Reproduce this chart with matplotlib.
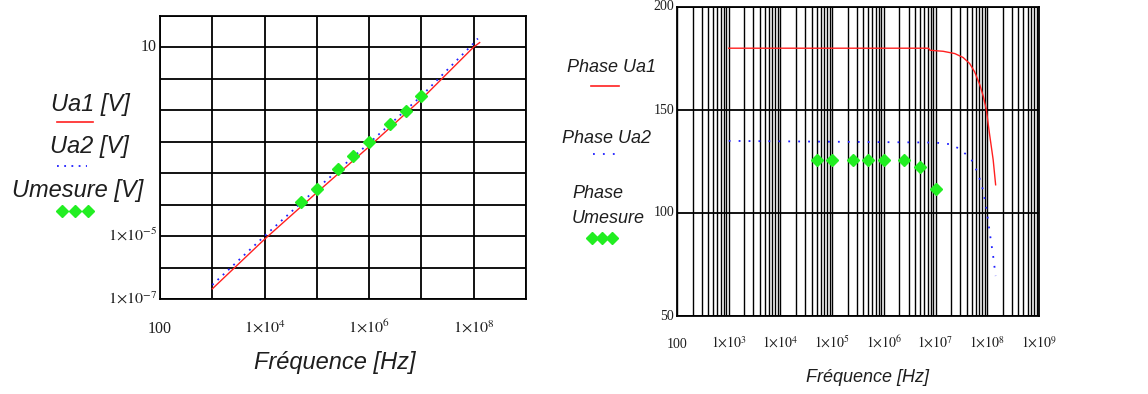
import matplotlib
matplotlib.use("Agg")
import matplotlib.pyplot as plt
from matplotlib.lines import Line2D

# --- data ---
# left plot: amplitude vs frequency
ua1_freq = [1e3, 1e4, 1e5, 1e6, 1e7, 1e8, 1.3e8]
ua1 = [2.1e-7, 7.9e-6, 2.4e-4, 6.9e-3, 0.22, 10.0, 13.8]
ua2_freq = [1e3, 1e4, 1e5, 1e6, 1e7, 1e8, 1.2e8]
ua2 = [2.8e-7, 1.0e-5, 3.2e-4, 8.9e-3, 0.28, 13.2, 18.6]
mes_freq = [5e4, 1e5, 2.5e5, 5e5, 1e6, 2.5e6, 5e6, 1e7]
umesure = [1.2e-4, 3.2e-4, 1.3e-3, 3.5e-3, 9.5e-3, 3.5e-2, 9.3e-2, 0.28]

# right plot: phase vs frequency
ph1_freq = [1e3, 7.3e6, 7.8e6, 1.4e7, 2.35e7, 3.4e7, 4.55e7, 5.7e7, 7.2e7, 8.4e7, 9.6e7, 1.1e8, 1.3e8, 1.45e8]
phase_ua1 = [180, 180, 179.0, 178.5, 177.4, 175.5, 172.6, 168.5, 162.1, 156.5, 150.0, 138.7, 125.8, 113.7]
ph2_freq = [1e3, 9.8e6, 1.9e7, 3e7, 4.9e7, 6.6e7, 8.3e7, 9.6e7, 1.12e8, 1.3e8, 1.45e8]
phase_ua2 = [135, 134.2, 133.4, 131.0, 126.1, 119.4, 111.0, 102.4, 90.2, 79.0, 69.4]
phase_mes = [125.6, 125.6, 125.6, 125.6, 125.6, 125.6, 122.3, 111.8]

left_yticks = [10, 1e-5, 1e-7]
left_ylabels = ["10", r"$1{\times}10^{-5}$", r"$1{\times}10^{-7}$"]
left_xticks = [1e2, 1e4, 1e6, 1e8]
left_xlabels = ["100", r"$1{\times}10^{4}$", r"$1{\times}10^{6}$", r"$1{\times}10^{8}$"]
right_xticks = [1e2, 1e3, 1e4, 1e5, 1e6, 1e7, 1e8, 1e9]
right_xlabels = ["100"] + [r"$1{\times}10^{%d}$" % k for k in range(3, 10)]
right_yticks = [50, 100, 150, 200]

RED = "#ff2020"
BLUE = "#2020ff"
GREEN = "#22ee22"
TXT = "#1e1e1e"
DOTS_L = (0, (1, 3))
DOTS_R = (0, (1, 4.5))

plt.rcParams["mathtext.fontset"] = "stix"
plt.rcParams["font.family"] = "Liberation Serif"

W, H = 1148, 394
fig = plt.figure(figsize=(W / 100, H / 100), dpi=100)


def fx(px):
    return px / W


def fy(py):
    return 1 - py / H


# ---------------- left plot ----------------
ax1 = fig.add_axes([fx(160), fy(299), (526 - 160) / W, (299 - 15.5) / H])
ax1.plot(ua1_freq, ua1, color=RED, lw=1.0)
ax1.plot(ua2_freq, ua2, color=BLUE, lw=1.3, linestyle=DOTS_L)
ax1.plot(mes_freq, umesure, linestyle="none", marker="D", ms=6.5, color=GREEN)
ax1.set_xscale("log")
ax1.set_yscale("log")
ax1.set_xlim(1e2, 1e9)
ax1.set_ylim(1e-7, 1e2)
ax1.set_xticks([10.0 ** k for k in range(2, 10)], minor=False)
ax1.set_yticks([10.0 ** k for k in range(-7, 3)], minor=False)
ax1.set_xticks([], minor=True)
ax1.set_yticks([], minor=True)
ax1.grid(True, color="black", lw=1.3)
ax1.set_xticklabels([])
ax1.set_yticklabels([])
ax1.tick_params(length=0)
for s in ax1.spines.values():
    s.set_linewidth(1.3)
for v, lab in zip(left_yticks, left_ylabels):
    ax1.annotate(lab, xy=(0, v), xycoords=("axes fraction", "data"), xytext=(-3, 0),
                 textcoords="offset pixels", ha="right", va="center", fontsize=11.5, color=TXT)
for v, lab in zip(left_xticks, left_xlabels):
    ax1.annotate(lab, xy=(v, 0), xycoords=("data", "axes fraction"), xytext=(0, -34),
                 textcoords="offset pixels", ha="center", va="baseline", fontsize=11.5, color=TXT)
fig.text(fx(335), fy(362), "Fréquence [Hz]", ha="center", va="center", fontsize=17,
         style="italic", family="Liberation Sans", color=TXT)

# left legend
leg_font = dict(style="italic", family="Liberation Sans", color=TXT, va="center")
fig.text(fx(90), fy(104), "Ua1 [V]", ha="center", fontsize=17, **leg_font)
fig.add_artist(Line2D([fx(57), fx(93)], [fy(122), fy(122)], color=RED, lw=1.2))
fig.text(fx(89), fy(146), "Ua2 [V]", ha="center", fontsize=17, **leg_font)
fig.add_artist(Line2D([fx(57), fx(87)], [fy(166), fy(166)], color=BLUE, lw=1.3, linestyle=DOTS_L))
fig.text(fx(78), fy(190), "Umesure [V]", ha="center", fontsize=17, **leg_font)
fig.add_artist(Line2D([fx(62), fx(75), fx(88)], [fy(211)] * 3, linestyle="none",
                      marker="D", ms=6.5, color=GREEN))

# ---------------- right plot ----------------
ax2 = fig.add_axes([fx(677), fy(316), (1039 - 677) / W, (316 - 7) / H])
ax2.plot(ph1_freq, phase_ua1, color=RED, lw=1.0)
ax2.plot(ph2_freq, phase_ua2, color=BLUE, lw=1.3, linestyle=DOTS_R)
ax2.plot(mes_freq, phase_mes, linestyle="none", marker="D", ms=6, color=GREEN)
ax2.set_xscale("log")
ax2.set_xlim(1e2, 1e9)
ax2.set_ylim(50, 200)
ax2.set_xticks(right_xticks)
ax2.set_xticks([m * 10.0 ** k for k in range(2, 9) for m in range(2, 10)], minor=True)
ax2.set_yticks(right_yticks)
ax2.set_yticks([], minor=True)
ax2.grid(True, which="both", axis="x", color="black", lw=1.0)
ax2.grid(True, which="major", axis="y", color="black", lw=1.3)
ax2.set_xticklabels([])
ax2.set_yticklabels([])
ax2.tick_params(which="both", length=0)
for s in ax2.spines.values():
    s.set_linewidth(1.3)
for v in right_yticks:
    ax2.annotate(str(v), xy=(0, v), xycoords=("axes fraction", "data"), xytext=(-3, 0),
                 textcoords="offset pixels", ha="right", va="center", fontsize=10, color=TXT)
for v, lab in zip(right_xticks, right_xlabels):
    ax2.annotate(lab, xy=(v, 0), xycoords=("data", "axes fraction"), xytext=(0, -32),
                 textcoords="offset pixels", ha="center", va="baseline", fontsize=10, color=TXT)
fig.text(fx(868), fy(378), "Fréquence [Hz]", ha="center", va="center", fontsize=13,
         style="italic", family="Liberation Sans", color=TXT)

# right legend
fig.text(fx(612), fy(67), "Phase Ua1", ha="center", fontsize=13, **leg_font)
fig.add_artist(Line2D([fx(591), fx(619)], [fy(86), fy(86)], color=RED, lw=1.2))
fig.text(fx(607), fy(138), "Phase Ua2", ha="center", fontsize=13, **leg_font)
fig.add_artist(Line2D([fx(593), fx(617)], [fy(154), fy(154)], color=BLUE, lw=1.3, linestyle=DOTS_R))
fig.text(fx(572), fy(193), "Phase", ha="left", fontsize=13, **leg_font)
fig.text(fx(572), fy(219), "Umesure", ha="left", fontsize=13, **leg_font)
fig.add_artist(Line2D([fx(592), fx(602), fx(612)], [fy(238)] * 3, linestyle="none",
                      marker="D", ms=6, color=GREEN))

fig.savefig("out.png", dpi=100)
